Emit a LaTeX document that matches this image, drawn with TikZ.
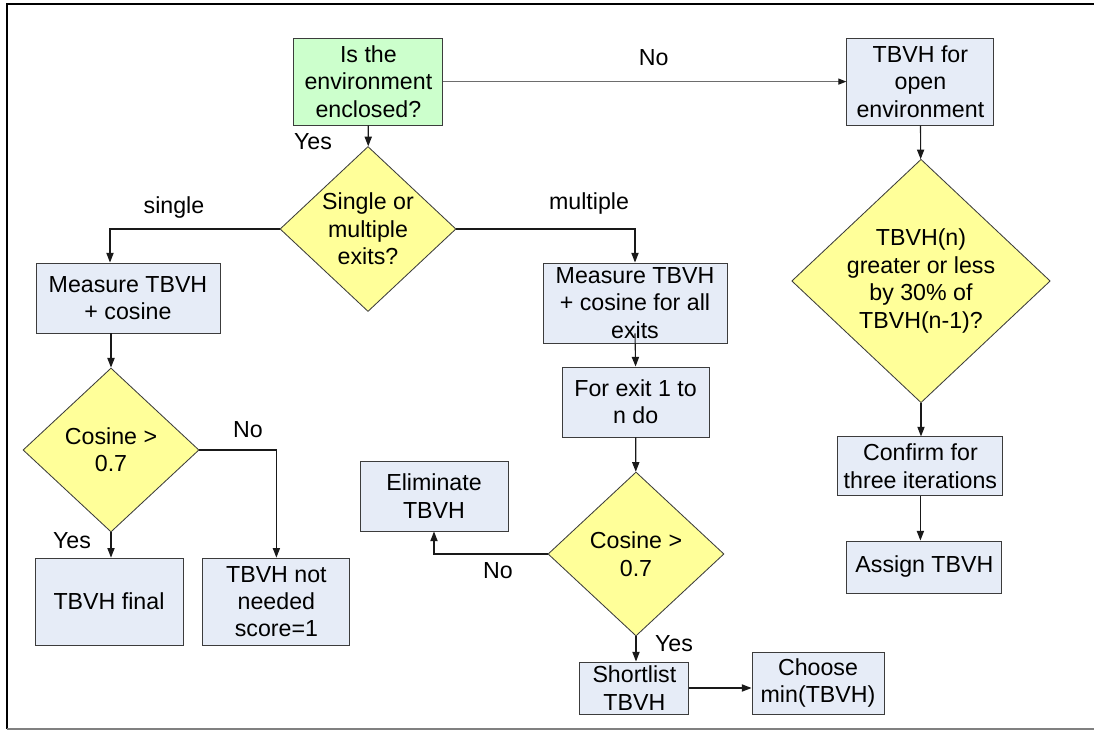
\documentclass[tikz,border=0pt]{standalone}
\usepackage{fontspec}
\setmainfont{Liberation Sans}
\usetikzlibrary{arrows.meta,positioning,shapes.geometric}
\definecolor{paleblue}{RGB}{230,236,247}
\definecolor{paleyellow}{RGB}{255,255,153}
\definecolor{palegreen}{RGB}{204,255,204}
\definecolor{ink}{RGB}{25,25,25}
\definecolor{rim}{RGB}{60,60,60}
\newcommand{\chartfont}{\fontsize{16.5}{19.5}\selectfont}
\tikzset{
  >={Triangle[length=2.4mm,width=1.8mm]},
  box/.style={draw=rim,fill=#1,line width=0.7pt,align=center,font=\chartfont,inner sep=1pt},
  box/.default=paleblue,
  query/.style={diamond,draw=rim,fill=paleyellow,line width=0.6pt,align=center,
    font=\chartfont,inner sep=0pt},
  flow/.style={->,line width=0.8pt,draw=#1},
  flow/.default=ink,
  tag/.style={font=\chartfont,text=black},
}
\begin{document}
\begin{tikzpicture}
  \useasboundingbox (0,0) rectangle (27.35,-18.275);
  % frame
  \draw[line width=1.5pt] (0.175,-18.225) -- (0.175,-0.1) -- (27.35,-0.1);
  \draw[gray,line width=0.8pt] (0.175,-18.225) -- (27.35,-18.225);

  % top row
  \node[box=palegreen,minimum width=3.725cm,minimum height=2.175cm] (encl) at (9.21,-2.04) {Is the\\environment\\enclosed?};
  \node[box,minimum width=3.675cm,minimum height=2.175cm] (open) at (23.01,-2.04) {TBVH for\\open\\environment};
  \node[query,aspect=1.067,minimum width=4.4cm,minimum height=4.125cm] (exits) at (9.2,-5.725) {Single or\\multiple\\exits?};

  % single exit branch
  \node[box,minimum width=4.6cm,minimum height=1.75cm] (meas1) at (3.2,-7.45) {Measure TBVH\\+ cosine};
  \node[query,aspect=1.073,minimum width=4.4cm,minimum height=4.1cm] (cos1) at (2.775,-11.25) {Cosine >\\0.7};
  \node[box,minimum width=3.7cm,minimum height=2.175cm] (final) at (2.725,-15.04) {TBVH final};
  \node[box,minimum width=3.675cm,minimum height=2.175cm] (skip) at (6.91,-15.04) {TBVH not\\needed\\score=1};

  % multiple exit branch
  \node[box,minimum width=4.6cm,minimum height=2cm] (meas2) at (15.875,-7.575) {Measure TBVH\\+ cosine for all\\exits};
  \node[box,minimum width=3.675cm,minimum height=1.75cm] (loop) at (15.89,-10.05) {For exit 1 to\\n do};
  \node[query,aspect=1.073,minimum width=4.4cm,minimum height=4.1cm] (cos2) at (15.9,-13.85) {Cosine >\\0.7};
  \node[box,minimum width=3.7cm,minimum height=1.75cm] (elim) at (10.85,-12.4) {Eliminate\\TBVH};
  \node[box,minimum width=2.725cm,minimum height=1.3cm] (short) at (15.86,-17.2) {Shortlist\\TBVH};
  \node[box,minimum width=3.3cm,minimum height=1.55cm] (choose) at (20.45,-17.075) {Choose\\min(TBVH)};

  % open environment branch
  \node[query,aspect=1.062,minimum width=6.425cm,minimum height=6.05cm] (thresh) at (23.025,-7.025) {TBVH(n)\\greater or less\\by 30\% of\\TBVH(n-1)?};
  \node[box,minimum width=4.125cm,minimum height=1.475cm] (confirm) at (23.01,-11.66) {Confirm for\\three iterations};
  \node[box,minimum width=3.875cm,minimum height=1.3cm] (assign) at (23.11,-14.175) {Assign TBVH};

  % labels
  \node[tag] (lyes0) at (7.825,-3.55) {Yes};
  \node[tag] (lno0) at (16.34,-1.45) {No};
  \node[tag] (lsingle) at (4.35,-5.2) {single};
  \node[tag] (lmulti) at (14.725,-5.08) {multiple};
  \node[tag] (lno1) at (6.2,-10.75) {No};
  \node[tag] (lyes1) at (1.8,-13.525) {Yes};
  \node[tag] (lno2) at (12.45,-14.275) {No};
  \node[tag] (lyes2) at (16.85,-16.1) {Yes};

  % connectors
  \draw[flow=rim!75,-{Triangle[length=2mm,width=1.5mm,color=ink]}] (encl) -- (open);
  \draw[flow] (encl) -- (exits);
  \draw[flow] (exits.west) -| ([xshift=-0.45cm]meas1.north);
  \draw[flow] (exits.east) -| (meas2.north);
  \draw[flow] (cos1.north |- meas1.south) -- (cos1.north);
  \draw[flow] (cos1.south) -- (cos1.south |- final.north);
  \draw[flow] (cos1.east) -| (skip.north);
  \draw[flow] ([yshift=0.25cm]meas2.south) -- (loop.north);
  \draw[flow] (loop) -- (cos2);
  \draw[flow] (cos2.west) -| (elim.south);
  \draw[flow] (cos2.south) -- (cos2.south |- short.north);
  \draw[flow] (short.east) -- (short.east -| choose.west);
  \draw[flow] (open) -- (thresh);
  \draw[flow] (thresh.south) -- (thresh.south |- confirm.north);
  \draw[flow] (confirm.south) -- (confirm.south |- assign.north);
\end{tikzpicture}
\end{document}
